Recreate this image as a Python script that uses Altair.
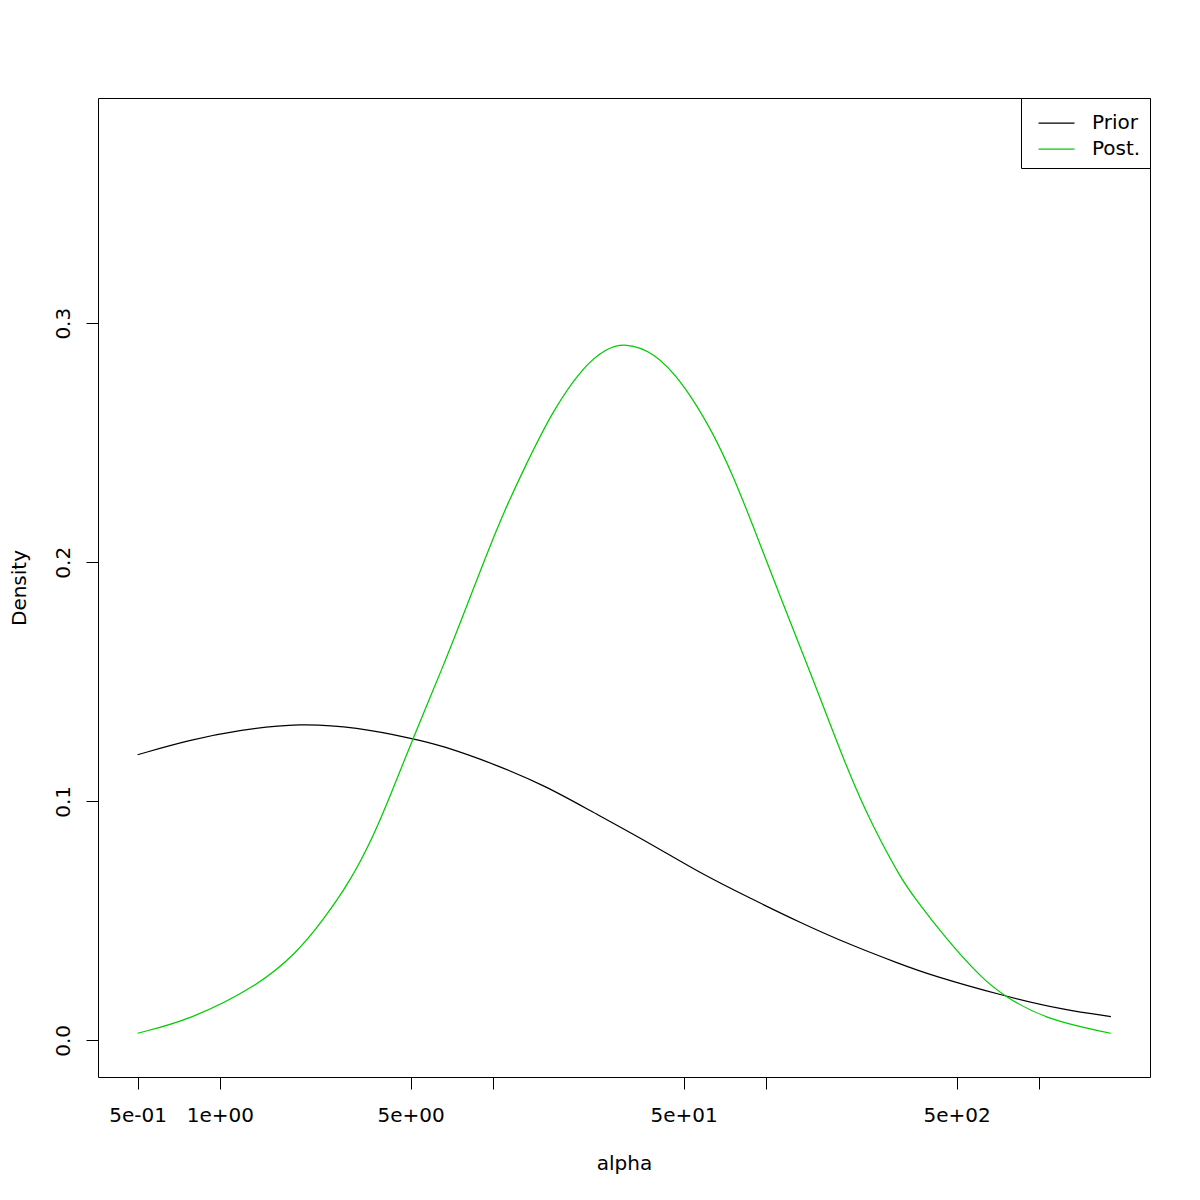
import altair as alt
import pandas as pd

# ---- data ----
prior_alpha = [0.5, 0.777, 1.184, 1.965, 3.17, 5.11, 6.40, 10.33, 15.76, 22.08,
               37.66, 57.4, 87.6, 133.5, 203.6, 310.4, 399.9, 742, 1231, 1837]
prior_density = [0.1195, 0.1257, 0.1299, 0.1327, 0.1310, 0.1262, 0.1236, 0.1153, 0.1062, 0.0969,
                 0.0825, 0.0700, 0.0595, 0.0493, 0.0400, 0.0320, 0.0274, 0.0186, 0.0128, 0.0100]

post_alpha = [0.5, 0.777, 1.364, 1.911, 2.392, 2.996, 3.648, 4.20, 5.11, 6.58,
              8.02, 10.62, 13.31, 16.65, 21.45, 26.14, 30.50, 38.73, 49.88, 64.24,
              76.04, 90.03, 112.8, 149.4, 198.0, 234.4, 262.2, 310.4, 347.3, 460.4,
              609.9, 742, 1070, 1837]
post_density = [0.0030, 0.0086, 0.0225, 0.0365, 0.0504, 0.0663, 0.0853, 0.1020, 0.1266, 0.1564,
                0.1815, 0.2178, 0.2415, 0.2638, 0.2819, 0.2896, 0.2917, 0.2882, 0.2750, 0.2541,
                0.2359, 0.2150, 0.1857, 0.1508, 0.1139, 0.0951, 0.0839, 0.0685, 0.0602, 0.0421,
                0.0267, 0.0186, 0.0086, 0.0030]

series_names = ["Prior", "Post."]
series_colors = ["#000000", "#00CD00"]

x_tick_values = [0.5, 1, 5, 10, 50, 100, 500, 1000]
x_tick_labels = ["5e-01", "1e+00", "5e+00", "", "5e+01", "", "5e+02", ""]
y_tick_values = [0.0, 0.1, 0.2, 0.3]

# ---- build table ----
rows = []
for a, d in zip(prior_alpha, prior_density):
    rows.append({"alpha": a, "density": d, "series": series_names[0], "order": len(rows)})
for a, d in zip(post_alpha, post_density):
    rows.append({"alpha": a, "density": d, "series": series_names[1], "order": len(rows)})
df = pd.DataFrame(rows)

label_expr = "''"
for v, lab in reversed(list(zip(x_tick_values, x_tick_labels))):
    label_expr = f"datum.value == {v} ? '{lab}' : ({label_expr})"

FONT = "DejaVu Sans"

chart = alt.Chart(df).mark_line(strokeWidth=1.25, interpolate="basis").encode(
    x=alt.X("alpha:Q",
            scale=alt.Scale(type="log", domain=[0.358, 2555], nice=False),
            axis=alt.Axis(values=x_tick_values, labelExpr=label_expr, title="alpha",
                          labelOverlap=False, labelFlush=False,
                          labelBaseline="alphabetic", labelPadding=32,
                          titleBaseline="alphabetic", titleY=92)),
    y=alt.Y("density:Q",
            scale=alt.Scale(domain=[-0.0153, 0.3942], nice=False, zero=False),
            axis=alt.Axis(values=y_tick_values, format=".1f", title="Density",
                          labelAngle=-90, labelAlign="center", labelBaseline="alphabetic",
                          labelPadding=17, labelOverlap=False, labelFlush=False,
                          titleBaseline="alphabetic", titleX=-72.5, titleY=489.5)),
    color=alt.Color("series:N",
                    scale=alt.Scale(domain=series_names, range=series_colors),
                    legend=alt.Legend(title=None, orient="none", legendX=923, legendY=0,
                                      direction="vertical", strokeColor="black",
                                      fillColor="white", padding=9, cornerRadius=0,
                                      symbolType="M-0.485,0H1.855", symbolSize=945,
                                      symbolStrokeWidth=1.25, labelFont=FONT,
                                      labelFontSize=20, labelColor="black",
                                      labelOffset=30, rowPadding=-10)),
    order="order:Q",
).properties(
    width=1052, height=979,
    autosize=alt.AutoSizeParams(type="none"),
    padding={"left": 90, "top": 90, "right": 42, "bottom": 115},
).configure_view(
    stroke="black", strokeWidth=1
).configure_axis(
    grid=False, domain=False, ticks=True, tickColor="black", tickWidth=1, tickSize=12,
    labelFont=FONT, labelFontSize=20, labelColor="black",
    titleFont=FONT, titleFontSize=20, titleFontWeight="normal", titleColor="black",
)

chart.save("out.html", embed_options={"renderer": "svg", "actions": False})
